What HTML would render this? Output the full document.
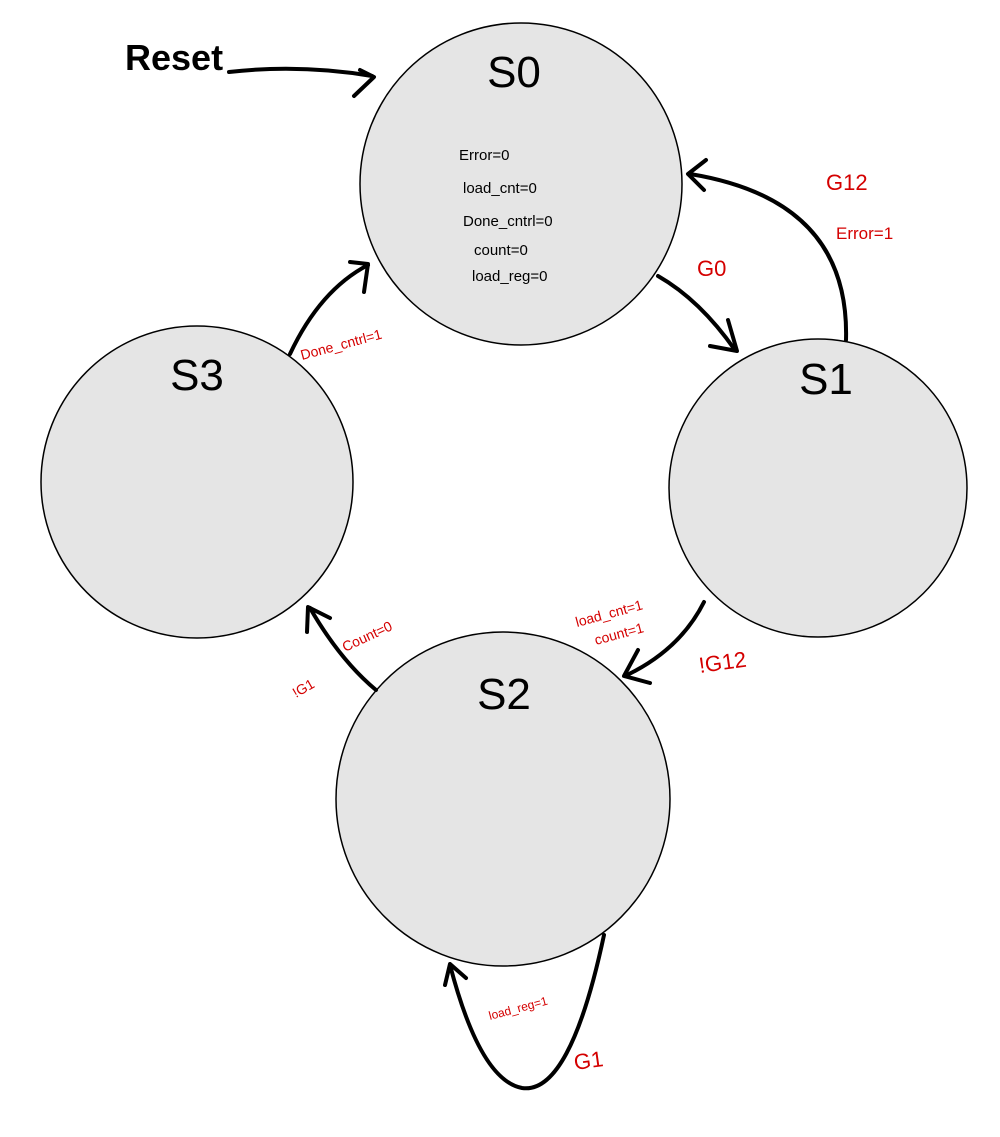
<!DOCTYPE html>
<html><head><meta charset="utf-8"><style>
html,body{margin:0;padding:0;background:#fff}
svg{display:block}
text{font-family:"Liberation Sans",sans-serif}
</style></head><body>
<svg width="1000" height="1137" viewBox="0 0 1000 1137" xmlns="http://www.w3.org/2000/svg">
<g fill="#e5e5e5" stroke="#000" stroke-width="1.5">
<circle cx="521" cy="184" r="161"/>
<circle cx="818" cy="488" r="149"/>
<circle cx="503" cy="799" r="167"/>
<circle cx="197" cy="482" r="156"/>
</g>
<g fill="none" stroke="#000" stroke-width="4" stroke-linecap="round" stroke-linejoin="round">
<path d="M229 72 Q300 64 372 76"/><path d="M360 70 L374 77 L354 96"/>
<path d="M658 276 Q700 300 735 350"/><path d="M710 346 L737 351 L728 320"/>
<path d="M846 340 Q850 200 690 174"/><path d="M706 160 L688 174 L704 190"/>
<path d="M704 602 Q680 650 625 676"/><path d="M650 683 L624 676 L638 650"/>
<path d="M604 935 Q570 1095 522 1088 Q480 1080 450 965"/><path d="M445 985 L450 964 L466 978"/>
<path d="M376 690 Q340 660 310 608"/><path d="M307 632 L308 607 L330 618"/>
<path d="M290 354 Q320 290 368 265"/><path d="M350 262 L368 264 L364 292"/>
</g>
<g fill="#000" font-size="44" text-anchor="middle">
<text x="514" y="87">S0</text>
<text x="826" y="394">S1</text>
<text x="504" y="709">S2</text>
<text x="197" y="390">S3</text>
</g>
<text x="125" y="70" font-size="36" font-weight="bold">Reset</text>
<g font-size="15" fill="#000">
<text x="459" y="160">Error=0</text>
<text x="463" y="193">load_cnt=0</text>
<text x="463" y="226">Done_cntrl=0</text>
<text x="474" y="255">count=0</text>
<text x="472" y="281">load_reg=0</text>
</g>
<g fill="#d40000">
<text x="697" y="276" font-size="22">G0</text>
<text x="826" y="190" font-size="22">G12</text>
<text x="836" y="239" font-size="17">Error=1</text>
<text x="700" y="673" font-size="22" transform="rotate(-8 700 673)">!G12</text>
<text x="577" y="627" font-size="14" transform="rotate(-15 577 627)">load_cnt=1</text>
<text x="596" y="645" font-size="14" transform="rotate(-15 596 645)">count=1</text>
<text x="575" y="1070" font-size="22" transform="rotate(-8 575 1070)">G1</text>
<text x="490" y="1020" font-size="12" transform="rotate(-15 490 1020)">load_reg=1</text>
<text x="345" y="652" font-size="14" transform="rotate(-25 345 652)">Count=0</text>
<text x="296" y="698" font-size="14" transform="rotate(-30 296 698)">!G1</text>
<text x="302" y="360" font-size="14" transform="rotate(-15 302 360)">Done_cntrl=1</text>
</g>
</svg>
</body></html>
